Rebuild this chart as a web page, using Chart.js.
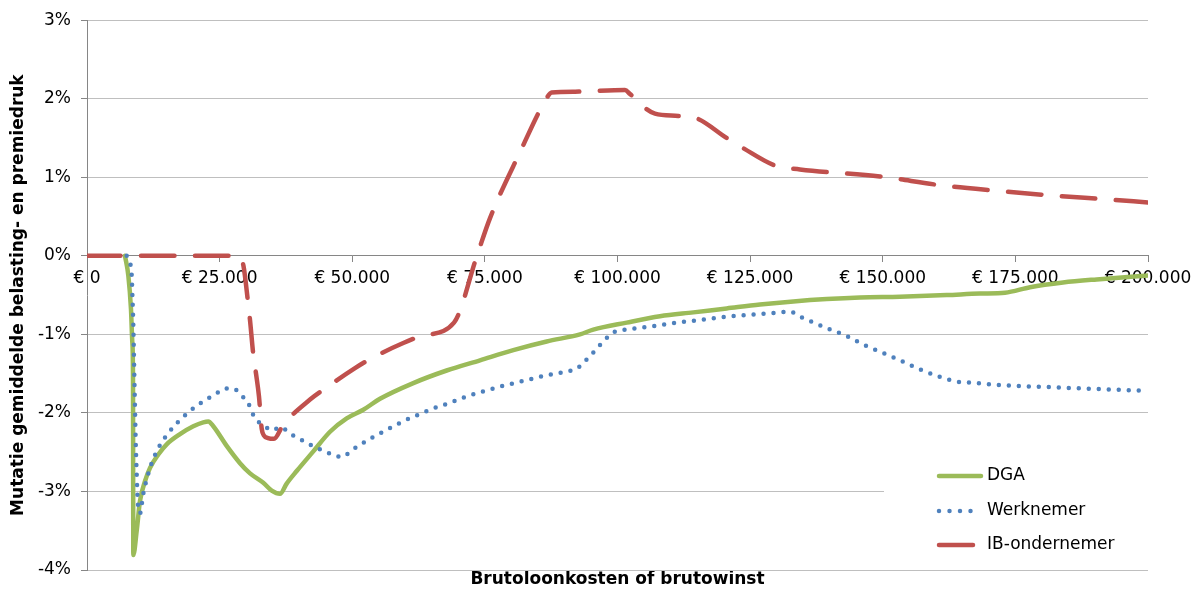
<!DOCTYPE html>
<html><head><meta charset="utf-8">
<script src="https://cdn.jsdelivr.net/npm/chart.js@4"></script>
<style>html,body{margin:0;padding:0;background:#fff;}canvas{display:block;}</style>
</head><body>
<canvas id="c" width="1201" height="592"></canvas>
<script>
const seriesNames = ['DGA', 'Werknemer', 'IB-ondernemer'];
const xTickValues = [0, 25000, 50000, 75000, 100000, 125000, 150000, 175000, 200000];
const yTickValues = [-4, -3, -2, -1, 0, 1, 2, 3];

const dgaX = [7160, 7790, 8290, 8540, 8670, 8730, 9370, 9990, 10930, 11880, 13440, 15020, 17530, 20040, 21920, 22870, 23810, 26330, 28840, 30730, 33230, 34820, 36380, 37640, 39530, 42660, 45810, 48950, 52080, 55230, 61510, 67800, 74080, 80360, 86650, 92930, 95440, 101730, 108010, 114290, 120580, 126860, 133140, 139430, 145710, 153250, 162050, 168330, 173040, 177760, 183980, 190330, 200000];
const dgaY = [0, -0.25, -0.68, -1.10, -1.52, -3.81, -3.50, -3.12, -2.87, -2.70, -2.53, -2.40, -2.27, -2.17, -2.12, -2.11, -2.17, -2.42, -2.64, -2.77, -2.89, -2.99, -3.03, -2.90, -2.74, -2.49, -2.24, -2.07, -1.96, -1.82, -1.62, -1.46, -1.33, -1.20, -1.09, -1.00, -0.94, -0.85, -0.77, -0.72, -0.67, -0.62, -0.58, -0.55, -0.53, -0.52, -0.50, -0.48, -0.47, -0.40, -0.34, -0.30, -0.25];

const werkX = [7480, 8110, 8430, 8540, 8730, 8920, 9050, 9180, 9370, 9560, 9990, 10610, 11880, 13440, 15650, 18150, 21300, 24450, 26010, 27580, 29160, 30410, 31670, 33230, 34820, 36570, 38130, 39830, 41410, 43110, 44860, 46560, 48200, 49760, 51460, 53030, 54720, 56360, 58060, 59760, 61510, 63280, 64980, 66730, 68560, 70310, 72060, 73890, 75650, 77530, 79300, 81190, 83000, 84830, 86650, 88540, 90420, 92310, 93550, 94950, 96190, 97550, 98770, 100600, 102490, 106260, 110030, 113800, 117570, 121340, 125110, 128880, 132520, 134270, 135970, 139430, 142880, 146340, 149800, 153250, 156780, 160280, 163810, 165690, 173230, 180770, 188310, 200000];
const werkY = [0, -0.09, -0.25, -0.47, -0.88, -1.52, -1.94, -2.36, -2.78, -3.12, -3.28, -3.03, -2.70, -2.45, -2.23, -2.05, -1.88, -1.75, -1.69, -1.69, -1.78, -1.88, -2.07, -2.15, -2.22, -2.18, -2.26, -2.32, -2.38, -2.44, -2.49, -2.54, -2.56, -2.48, -2.41, -2.34, -2.28, -2.22, -2.16, -2.10, -2.05, -2.00, -1.95, -1.91, -1.87, -1.82, -1.78, -1.74, -1.71, -1.67, -1.64, -1.61, -1.58, -1.55, -1.52, -1.50, -1.47, -1.44, -1.36, -1.27, -1.17, -1.08, -0.99, -0.95, -0.93, -0.90, -0.86, -0.83, -0.80, -0.77, -0.75, -0.73, -0.71, -0.77, -0.82, -0.92, -1.01, -1.13, -1.23, -1.33, -1.44, -1.53, -1.60, -1.61, -1.65, -1.67, -1.69, -1.72];

const ibX = [0, 28650, 29500, 30350, 30730, 31350, 31860, 32420, 32930, 33370, 34120, 35250, 37000, 42040, 44860, 50520, 53480, 59620, 63090, 69180, 73500, 75970, 81620, 86330, 87600, 92000, 101410, 102360, 104860, 107070, 111460, 114930, 120580, 123710, 129680, 134390, 149480, 160790, 171160, 181530, 191890, 200000];
const ibY = [0, 0, -0.13, -0.59, -0.82, -1.26, -1.50, -1.79, -2.20, -2.29, -2.32, -2.33, -2.15, -1.83, -1.69, -1.43, -1.31, -1.11, -1.02, -0.85, 0, 0.48, 1.32, 1.97, 2.08, 2.09, 2.11, 2.06, 1.90, 1.81, 1.78, 1.75, 1.50, 1.37, 1.15, 1.10, 1.01, 0.90, 0.83, 0.77, 0.72, 0.68];

const COLORS = {dga: '#9BBB59', werk: '#4F81BD', ib: '#C0504D'};
const FONT = '"DejaVu Sans", Verdana, sans-serif';
const pts = (xs, ys) => xs.map((x, i) => ({x: x, y: ys[i]}));
const fmtEuro = v => '\u20AC ' + String(Math.round(v)).replace(/\B(?=(\d{3})+(?!\d))/g, '.');

const insideLegend = {
  id: 'insideLegend',
  beforeDatasetsDraw(chart) {
    const ca = chart.chartArea, ctx = chart.ctx;
    ctx.save();
    ctx.fillStyle = '#ffffff';
    ctx.fillRect(ca.right - 264, ca.bottom - 118, 270, 111);
    ctx.restore();
  },
  afterDraw(chart) {
    const ca = chart.chartArea, ctx = chart.ctx;
    const x0 = ca.right - 211;
    const rows = [
      {y: ca.bottom - 94, color: COLORS.dga, dash: [], len: 42},
      {y: ca.bottom - 59, color: COLORS.werk, dash: [0, 10.5], len: 42},
      {y: ca.bottom - 25, color: COLORS.ib, dash: [], len: 34}
    ];
    ctx.save();
    rows.forEach((r, i) => {
      ctx.beginPath();
      ctx.strokeStyle = r.color;
      ctx.lineWidth = 4.5;
      ctx.lineCap = 'round';
      ctx.setLineDash(r.dash);
      ctx.moveTo(x0 + 2, r.y);
      ctx.lineTo(x0 + 2 + r.len, r.y);
      ctx.stroke();
      ctx.setLineDash([]);
      ctx.fillStyle = '#000';
      ctx.font = '17px ' + FONT;
      ctx.textBaseline = 'middle';
      ctx.textAlign = 'left';
      ctx.fillText(seriesNames[i], x0 + 50, r.y);
    });
    ctx.restore();
  }
};

new Chart(document.getElementById('c'), {
  type: 'line',
  data: {
    datasets: [
      {label: seriesNames[0], data: pts(dgaX, dgaY), xAxisID: 'x', yAxisID: 'y', borderColor: COLORS.dga, backgroundColor: COLORS.dga,
       borderWidth: 4.5, pointRadius: 0, fill: false, cubicInterpolationMode: 'monotone', borderCapStyle: 'round', borderJoinStyle: 'round', order: 3},
      {label: seriesNames[1], data: pts(werkX, werkY), xAxisID: 'x', yAxisID: 'y', borderColor: COLORS.werk, backgroundColor: COLORS.werk,
       borderWidth: 4.5, pointRadius: 0, fill: false, cubicInterpolationMode: 'monotone', borderDash: [0, 10], borderCapStyle: 'round', borderJoinStyle: 'round', order: 2},
      {label: seriesNames[2], data: pts(ibX, ibY), xAxisID: 'x', yAxisID: 'y', borderColor: COLORS.ib, backgroundColor: COLORS.ib,
       borderWidth: 4.5, pointRadius: 0, fill: false, cubicInterpolationMode: 'monotone', borderDash: [33.5, 20.5], borderCapStyle: 'round', borderJoinStyle: 'round', order: 1}
    ]
  },
  options: {
    responsive: false,
    animation: false,
    devicePixelRatio: 1,
    layout: {padding: {left: 0, right: 53, top: 16, bottom: 0}},
    plugins: {legend: {display: false}, tooltip: {enabled: false}},
    scales: {
      x: {
        type: 'linear', position: {y: 0}, min: 0, max: 200000,
        afterBuildTicks: s => { s.ticks = xTickValues.map(v => ({value: v})); },
        ticks: {callback: fmtEuro, font: {family: FONT, size: 17}, color: '#000', padding: 7, maxRotation: 0, autoSkip: false},
        grid: {display: true, drawOnChartArea: false, drawTicks: true, tickLength: 6, tickColor: '#868686', tickWidth: 1},
        border: {display: true, color: '#868686', width: 1}
      },
      x2: {
        type: 'linear', position: 'bottom', min: 0, max: 1,
        ticks: {display: false}, grid: {display: false}, border: {display: false},
        title: {display: true, text: 'Brutoloonkosten of brutowinst', color: '#000', font: {family: FONT, size: 17, weight: 'bold'}, padding: {top: 0, bottom: 2}},
        afterFit: s => { s.height = 22; }
      },
      y: {
        type: 'linear', position: 'left', min: -4, max: 3,
        afterBuildTicks: s => { s.ticks = yTickValues.map(v => ({value: v})); },
        ticks: {callback: v => v + '%', font: {family: FONT, size: 17}, color: '#000', padding: 10},
        grid: {color: '#BFBFBF', lineWidth: 1, tickColor: '#868686', tickLength: 6, drawTicks: true},
        border: {display: true, color: '#868686', width: 1},
        title: {display: true, text: 'Mutatie gemiddelde belasting- en premiedruk', color: '#000', font: {family: FONT, size: 17, weight: 'bold'}, padding: {top: 8, bottom: 0}},
        afterFit: s => { s.width = 87; }
      }
    }
  },
  plugins: [insideLegend]
});
</script>
</body></html>
